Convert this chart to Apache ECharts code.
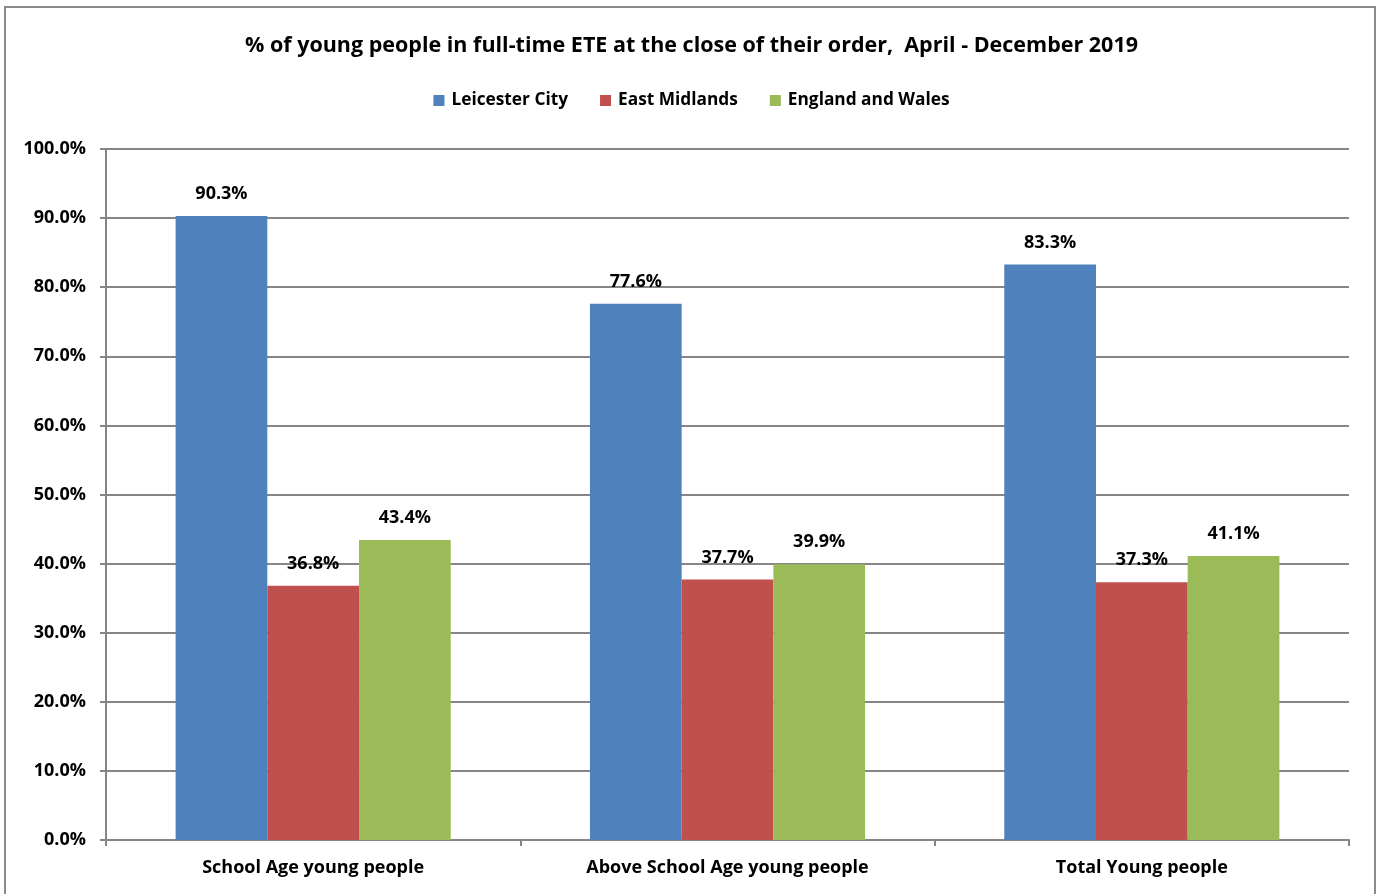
<!DOCTYPE html>
<html>
<head>
<meta charset="utf-8">
<script src="https://cdn.jsdelivr.net/npm/echarts@6/dist/echarts.min.js"></script>
<style>
  html, body { margin: 0; padding: 0; background: #fff; overflow: hidden; }
  #frame { position: absolute; left: 4px; top: 6px; width: 1372px; height: 900px; border: 2px solid #8c8c8c; box-sizing: border-box; }
  #chart { position: absolute; left: 0; top: 0; width: 1383px; height: 894px; }
</style>
</head>
<body>
<div id="frame"></div>
<div id="chart"></div>
<script>
const categories = ['School Age young people', 'Above School Age young people', 'Total Young people'];
const leicesterCity = [90.3, 77.6, 83.3];
const eastMidlands = [36.8, 37.7, 37.3];
const englandWales = [43.4, 39.9, 41.1];
const seriesNames = ['Leicester City', 'East Midlands', 'England and Wales'];
const seriesColors = ['#4F81BD', '#C0504D', '#9BBB59'];

const FONT = '"Open Sans", sans-serif';
const chart = echarts.init(document.getElementById('chart'), null, { renderer: 'canvas' });

function barSeries(name, data, color) {
  return {
    name: name,
    type: 'bar',
    data: data,
    barGap: '0%',
    barCategoryGap: '33.6%',
    itemStyle: { color: color },
    label: {
      show: true,
      position: 'top',
      distance: 13,
      formatter: p => p.value.toFixed(1) + '%',
      fontFamily: FONT, fontWeight: 'bold', fontSize: 18, color: '#000'
    }
  };
}

chart.setOption({
  animation: false,
  backgroundColor: 'transparent',
  title: {
    text: '% of young people in full-time ETE at the close of their order,  April - December 2019',
    left: 'center', top: 30,
    textStyle: { fontFamily: FONT, fontWeight: 'bold', fontSize: 21.5, color: '#000' }
  },
  legend: {
    top: 87, left: 'center',
    itemWidth: 11, itemHeight: 11, itemGap: 32,
    icon: 'rect',
    textStyle: { fontFamily: FONT, fontWeight: 'bold', fontSize: 17.3, color: '#000', padding: [0, 0, 0, 2] },
    data: seriesNames
  },
  grid: { left: 106, right: 34, top: 149, bottom: 54, containLabel: false },
  xAxis: {
    type: 'category',
    data: categories,
    axisLine: { lineStyle: { color: '#868686', width: 2 } },
    axisTick: { show: true, length: 6, alignWithLabel: false, lineStyle: { color: '#868686', width: 2 } },
    axisLabel: { margin: 19, fontFamily: FONT, fontWeight: 'bold', fontSize: 18, color: '#000' }
  },
  yAxis: {
    type: 'value',
    min: 0, max: 100, interval: 10,
    axisLine: { show: true, lineStyle: { color: '#868686', width: 2 } },
    axisTick: { show: true, length: 6, lineStyle: { color: '#868686', width: 2 } },
    axisLabel: { margin: 20, formatter: v => v.toFixed(1) + '%', fontFamily: FONT, fontWeight: 'bold', fontSize: 18, color: '#000' },
    splitLine: { show: true, lineStyle: { color: '#868686', width: 2 } }
  },
  series: [
    barSeries(seriesNames[0], leicesterCity, seriesColors[0]),
    barSeries(seriesNames[1], eastMidlands, seriesColors[1]),
    barSeries(seriesNames[2], englandWales, seriesColors[2])
  ]
});
</script>
</body>
</html>
